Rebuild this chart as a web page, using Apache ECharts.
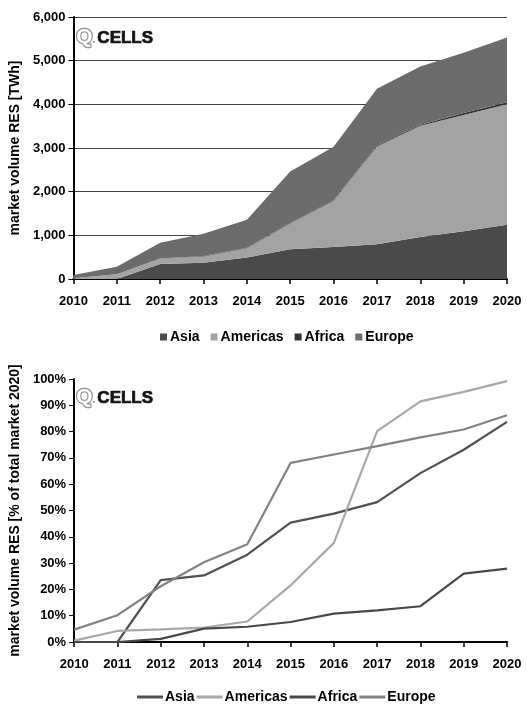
<!DOCTYPE html>
<html>
<head>
<meta charset="utf-8">
<script src="https://cdn.jsdelivr.net/npm/echarts@6/dist/echarts.min.js"></script>
<style>
html,body{margin:0;padding:0;background:#fff;}
#c1{position:absolute;left:0;top:0;width:527px;height:352px;}
#c2{position:absolute;left:0;top:352px;width:527px;height:353px;}
</style>
</head>
<body>
<div id="c1"></div>
<div id="c2"></div>
<script>
// ---- data ----
var years = ['2010','2011','2012','2013','2014','2015','2016','2017','2018','2019','2020'];
var seriesNames = ['Asia','Americas','Africa','Europe'];
// market volume RES [TWh] (stacked)
var asiaTWh     = [0, 0, 345, 375, 495, 680, 730, 795, 960, 1095, 1240];
var americasTWh = [15, 110, 125, 140, 210, 590, 1060, 2240, 2550, 2660, 2760];
var africaTWh   = [0, 0, 2, 9, 10, 14, 20, 22, 24, 47, 50];
var europeTWh   = [75, 170, 360, 510, 640, 1180, 1220, 1300, 1330, 1380, 1480];
// market volume RES [% of total market 2020]
var asiaPct     = [0, 0, 23.5, 25.3, 33.2, 45.4, 48.8, 53.2, 64.2, 73.1, 83.7];
var americasPct = [0.5, 4.2, 4.8, 5.5, 7.8, 21.5, 37.7, 80.2, 91.5, 95.1, 99.2];
var africaPct   = [0, 0, 1.2, 5.1, 5.8, 7.6, 10.8, 12, 13.6, 26, 27.9];
var europePct   = [4.7, 10.2, 21.2, 30.3, 37.2, 68.1, 71.3, 74.5, 77.8, 80.8, 86.2];
var yTicksTWh = [0, 1000, 2000, 3000, 4000, 5000, 6000];
var yTicksPct = [0, 10, 20, 30, 40, 50, 60, 70, 80, 90, 100];

var FONT = 'Liberation Sans, Arial, sans-serif';
var areaColors = ['#4a4a4a', '#a3a3a3', '#333333', '#6c6c6c'];
var lineColors = ['#505050', '#a8a8a8', '#484848', '#828282'];

function logo(top) {
  return [
    {type:'text', left:75, top:top-3, z:10, style:{text:'Q', font:'bold 21px ' + FONT, fill:'#fff', stroke:'#909090', lineWidth:2.4}},
    {type:'text', left:92, top:top+5, z:10, style:{text:'.', font:'bold 12px ' + FONT, fill:'#909090'}},
    {type:'text', left:97, top:top, z:10, style:{text:'CELLS', font:'bold 17px ' + FONT, fill:'#111', stroke:'#111', lineWidth:0.7}}
  ];
}

function baseX() {
  return {
    type:'category', data:years, boundaryGap:false,
    axisLine:{lineStyle:{color:'#000', width:2}},
    axisTick:{show:true, inside:false, length:5, lineStyle:{color:'#000', width:1.5}},
    axisLabel:{color:'#000', fontFamily:FONT, fontWeight:'bold', fontSize:13, margin:16, interval:0}
  };
}

// ---- chart 1 ----
var ch1 = echarts.init(document.getElementById('c1'));
var stackData = [asiaTWh, americasTWh, africaTWh, europeTWh];
ch1.setOption({
  animation:false,
  grid:{left:70, right:20, top:17, bottom:73},
  graphic: logo(29),
  legend:{
    top:325, left:155, itemWidth:7, itemHeight:7, itemGap:11,
    icon:'rect',
    textStyle:{fontFamily:FONT, fontWeight:'bold', fontSize:14, color:'#000', padding:[0,0,0,-2]},
    data:seriesNames
  },
  xAxis: baseX(),
  yAxis:{
    type:'value', min:yTicksTWh[0], max:yTicksTWh[yTicksTWh.length-1], interval:1000,
    name:'market volume RES [TWh]', nameLocation:'middle', nameGap:50, nameRotate:90,
    nameTextStyle:{fontFamily:FONT, fontWeight:'bold', fontSize:14, color:'#000'},
    axisLine:{show:true, lineStyle:{color:'#000', width:2}},
    axisTick:{show:true, length:5, lineStyle:{color:'#000'}},
    axisLabel:{color:'#000', fontFamily:FONT, fontWeight:'bold', fontSize:13, margin:8,
      formatter:function(v){return v.toLocaleString('en-US');}},
    splitLine:{show:true, lineStyle:{color:'#444', width:1}}
  },
  series: seriesNames.map(function(n, i){
    return {name:n, type:'line', stack:'total', data:stackData[i], symbol:'none',
      lineStyle:{width:0}, areaStyle:{color:areaColors[i], opacity:1},
      itemStyle:{color:areaColors[i]}};
  })
});

// ---- chart 2 ----
var ch2 = echarts.init(document.getElementById('c2'));
var pctData = [asiaPct, americasPct, africaPct, europePct];
ch2.setOption({
  animation:false,
  grid:{left:70, right:20, top:27, bottom:63},
  graphic: logo(37),
  legend:{
    top:333, left:132, itemWidth:26, itemHeight:3, itemGap:2,
    icon:'rect',
    textStyle:{fontFamily:FONT, fontWeight:'bold', fontSize:14, color:'#000', padding:[0,0,0,-3]},
    data:seriesNames
  },
  xAxis: baseX(),
  yAxis:{
    type:'value', min:yTicksPct[0], max:yTicksPct[yTicksPct.length-1], interval:10,
    name:'market volume RES [% of total market 2020]', nameLocation:'middle', nameGap:50, nameRotate:90,
    nameTextStyle:{fontFamily:FONT, fontWeight:'bold', fontSize:14, color:'#000'},
    axisLine:{show:true, lineStyle:{color:'#000', width:2}},
    axisTick:{show:true, length:5, lineStyle:{color:'#000'}},
    axisLabel:{color:'#000', fontFamily:FONT, fontWeight:'bold', fontSize:13, margin:8,
      formatter:'{value}%'},
    splitLine:{show:false}
  },
  series: seriesNames.map(function(n, i){
    return {name:n, type:'line', data:pctData[i], symbol:'none',
      lineStyle:{width:2.2, color:lineColors[i]}, itemStyle:{color:lineColors[i]}};
  })
});
</script>
</body>
</html>
